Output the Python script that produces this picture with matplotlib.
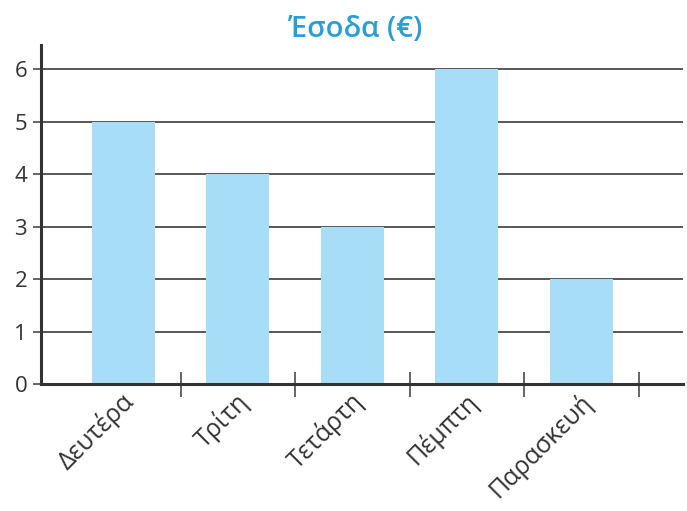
import matplotlib
matplotlib.use("Agg")
import matplotlib.pyplot as plt
import matplotlib.transforms as mtransforms
import numpy as np

plt.rcParams['font.family'] = ['Open Sans', 'Noto Sans', 'DejaVu Sans']

days = ['Δευτέρα', 'Τρίτη', 'Τετάρτη', 'Πέμπτη', 'Παρασκευή']
income = [5, 4, 3, 6, 2]
yticks = [0, 1, 2, 3, 4, 5, 6]
title = 'Έσοδα (€)'

fig = plt.figure(figsize=(6.87, 5.11), dpi=100)
ax = fig.add_axes([0.0597, 0.2485, 0.935, 0.6635])

x = np.arange(len(days))
ax.bar(x, income, width=0.55, color='#a8ddf8', zorder=3)

ax.set_xlim(-0.72, 4.89)
ax.set_ylim(0, 6.46)

for y in yticks[1:]:
    ax.axhline(y, color='#4a4a4a', lw=1.3, zorder=1)

for s in ['top', 'right']:
    ax.spines[s].set_visible(False)
for s in ['left', 'bottom']:
    ax.spines[s].set_color('#333333')
    ax.spines[s].set_linewidth(2.2)
    ax.spines[s].set_zorder(4)

ax.set_yticks(yticks)
ax.set_yticklabels([str(v) for v in yticks], fontsize=16, color='#333333')
ax.tick_params(axis='y', length=6, width=1.2, color='#4a4a4a', pad=4)

ax.set_xticks(x)
ax.set_xticklabels(days, rotation=45, ha='right', va='top', rotation_mode='anchor',
                   fontsize=18, color='#333333')
ax.tick_params(axis='x', which='major', length=0, pad=3)
offs = mtransforms.ScaledTranslation(-2/72, 0, fig.dpi_scale_trans)
for lbl in ax.get_xticklabels():
    lbl.set_transform(lbl.get_transform() + offs)

ax.set_xticks(x + 0.5, minor=True)
ax.tick_params(axis='x', which='minor', direction='inout', length=18,
               width=1.2, color='#4a4a4a')

ax.set_title(title, fontsize=21, fontweight='semibold', color='#2a9fd6', pad=6,
             x=0.49)

fig.savefig('out.png', dpi=100)
